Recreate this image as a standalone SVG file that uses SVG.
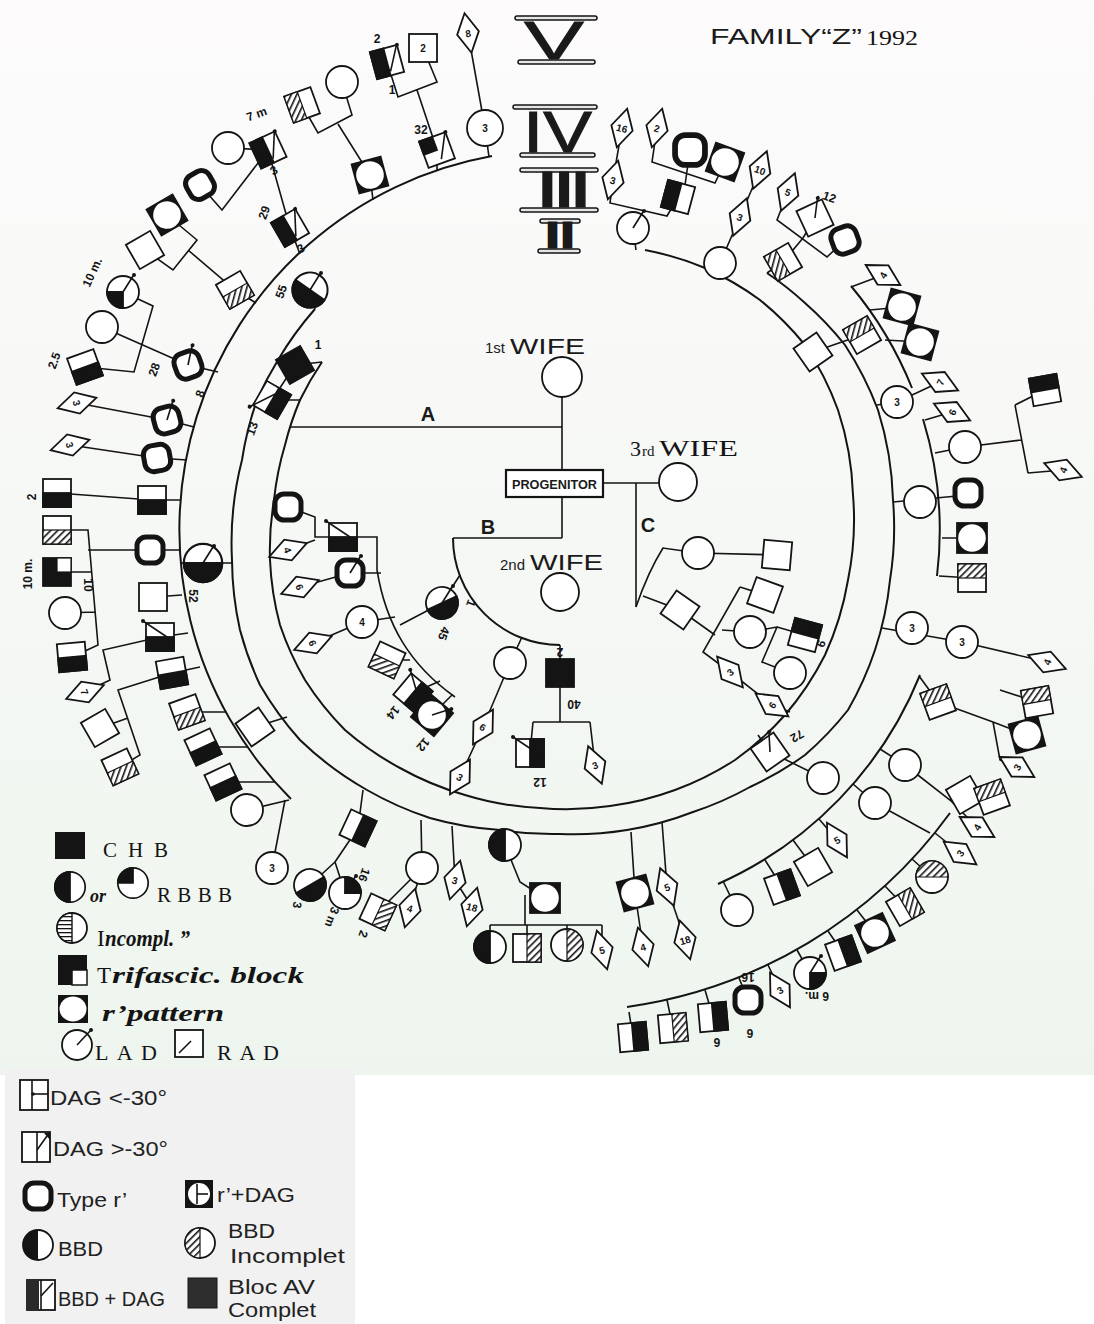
<svg xmlns="http://www.w3.org/2000/svg" width="1094" height="1324" viewBox="0 0 1094 1324">
<style>
.w{fill:#fff;stroke:#141414;stroke-width:1.8}
.b{fill:#141414;stroke:#141414;stroke-width:1.8}
.h{fill:url(#hatch);stroke:#141414;stroke-width:1.2}
.rt{fill:#fff;stroke:#141414;stroke-width:5}
.ln{fill:none;stroke:#141414;stroke-width:1.6}
.rg{fill:none;stroke:#141414;stroke-width:2}
.bar{fill:#e6e6e6;stroke:#141414;stroke-width:1.5}
.n{font-family:"Liberation Sans",Arial,sans-serif;font-weight:bold;font-size:10px;text-anchor:middle;fill:#141414}
.lb{font-family:"Liberation Sans",Arial,sans-serif;font-weight:bold;font-size:12px;text-anchor:middle;fill:#141414}
.cap{font-family:"Liberation Sans",Arial,sans-serif;fill:#1a1a1a}
.ser{font-family:"Liberation Serif","Times New Roman",serif;fill:#141414}
.lg{font-family:"Liberation Sans",Arial,sans-serif;font-size:20px;fill:#222}
</style>
<defs>
<linearGradient id="bg" x1="0" y1="0" x2="0" y2="1"><stop offset="0" stop-color="#fdfbfc"/><stop offset="1" stop-color="#eef5ee"/></linearGradient>
<pattern id="hatch" width="5" height="5" patternUnits="userSpaceOnUse" patternTransform="rotate(45)"><rect width="5" height="5" fill="#fff"/><rect width="1.6" height="5" fill="#141414"/></pattern>
<pattern id="hz" width="4" height="4" patternUnits="userSpaceOnUse"><rect width="4" height="4" fill="#fff"/><rect width="4" height="1.3" fill="#141414"/></pattern>
<g id="sq"><rect x="-14" y="-14" width="28" height="28" class="w"/></g>
<g id="sqB"><rect x="-14" y="-14" width="28" height="28" class="b"/></g>
<g id="sqBot"><rect x="-14" y="-14" width="28" height="28" class="w"/><rect x="-14" y="0" width="28" height="14" class="b"/></g>
<g id="sqTop"><rect x="-14" y="-14" width="28" height="28" class="w"/><rect x="-14" y="-14" width="28" height="14" class="b"/></g>
<g id="sqL"><rect x="-14" y="-14" width="28" height="28" class="w"/><rect x="-14" y="-14" width="14" height="28" class="b"/></g>
<g id="sqR"><rect x="-14" y="-14" width="28" height="28" class="w"/><rect x="0" y="-14" width="14" height="28" class="b"/></g>
<g id="sqHB"><rect x="-14" y="-14" width="28" height="28" class="w"/><rect x="-14" y="0" width="28" height="14" class="h"/></g>
<g id="sqHT"><rect x="-14" y="-14" width="28" height="28" class="w"/><rect x="-14" y="-14" width="28" height="14" class="h"/></g>
<g id="sqHL"><rect x="-14" y="-14" width="28" height="28" class="w"/><rect x="-14" y="-14" width="14" height="28" class="h"/></g>
<g id="sqHR"><rect x="-14" y="-14" width="28" height="28" class="w"/><rect x="0" y="-14" width="14" height="28" class="h"/></g>
<g id="sqTri"><rect x="-14" y="-14" width="28" height="28" class="b"/><rect x="0" y="-14" width="14" height="14" fill="#fff" stroke="#141414" stroke-width="1.2"/></g>
<g id="sqQ"><rect x="-14" y="-14" width="28" height="28" class="w"/><rect x="-14" y="-14" width="14" height="14" class="b"/></g>
<g id="sqRp"><rect x="-15" y="-15" width="30" height="30" class="b"/><circle r="13.8" fill="#fff"/></g>
<g id="sqRt"><rect x="-13" y="-13" width="26" height="26" rx="9" class="rt"/></g>
<g id="ci"><circle r="16" class="w"/></g>
<g id="ciBot"><circle r="16" class="w"/><path d="M-16,0A16,16 0 0 0 16,0Z" class="b"/></g>
<g id="ciL"><circle r="16" class="w"/><path d="M0,-16A16,16 0 0 0 0,16Z" class="b"/></g>
<g id="ciQ"><circle r="16" class="w"/><path d="M0,0H-16A16,16 0 0 1 0,-16Z" class="b"/></g>
<g id="ciHR"><circle r="16" class="w"/><path d="M0,-16A16,16 0 0 1 0,16Z" class="h"/></g>
<g id="ciHT"><circle r="16" class="w"/><path d="M-16,0A16,16 0 0 1 16,0Z" class="h"/></g>
<g id="dm"><polygon points="0,-20 11,0 0,20 -11,0" class="w"/></g>
<g id="lad"><line x1="0" y1="0" x2="10" y2="-16" class="ln"/><circle cx="11" cy="-17" r="2" fill="#141414"/></g>
<g id="dg"><line x1="-17" y1="-16" x2="10" y2="2" class="ln"/><circle cx="-17" cy="-16" r="2" fill="#141414"/></g>
<g id="dag"><line x1="1" y1="10" x2="13" y2="-13" class="ln"/><circle cx="14" cy="-14" r="2" fill="#141414"/></g>
</defs>

<rect x="0" y="0" width="1094" height="1324" fill="#ffffff"/>
<rect x="0" y="0" width="1094" height="1075" fill="url(#bg)"/>
<rect x="5" y="1068" width="350" height="256" fill="#f1f1f1"/>

<g id="title"><text x="710" y="44" class="cap" font-size="22" textLength="152" lengthAdjust="spacingAndGlyphs">FAMILY“Z”</text><text x="866" y="45" class="ser" font-size="21" textLength="52" lengthAdjust="spacingAndGlyphs">1992</text></g>

<g id="generations">
<rect x="515" y="16" width="82" height="4" rx="2" class="bar"/><rect x="518" y="60" width="77" height="4" rx="2" class="bar"/>
<text x="524" y="59" class="cap" font-size="54" stroke="#1a1a1a" stroke-width="0.8" textLength="60" lengthAdjust="spacingAndGlyphs">V</text>
<rect x="513" y="105" width="84" height="4" rx="2" class="bar"/><rect x="520" y="153" width="75" height="4" rx="2" class="bar"/>
<text x="523" y="152" class="cap" font-size="58" stroke="#1a1a1a" stroke-width="1" textLength="69" lengthAdjust="spacingAndGlyphs">IV</text>
<rect x="520" y="168" width="78" height="4" rx="2" class="bar"/><rect x="520" y="208" width="78" height="4" rx="2" class="bar"/>
<text x="539" y="207" class="cap" font-size="50" font-weight="bold" stroke="#1a1a1a" stroke-width="1.2" textLength="50" lengthAdjust="spacingAndGlyphs">III</text>
<rect x="540" y="219" width="40" height="4" rx="2" class="bar"/><rect x="538" y="249" width="42" height="4" rx="2" class="bar"/>
<text x="545" y="248" class="cap" font-size="36" font-weight="bold" stroke="#1a1a1a" stroke-width="1.2" textLength="30" lengthAdjust="spacingAndGlyphs">II</text>
</g>

<g id="connectors">
<path class="rg" d="M322,362 A300,300 0 0 0 300,400 A300,300 0 0 0 285,445 A300,300 0 0 0 274,500 A300,300 0 0 0 270,560 A300,300 0 0 0 280,625 A300,300 0 0 0 305,680 A300,300 0 0 0 345,730 A300,300 0 0 0 400,768 A300,300 0 0 0 465,795 A300,300 0 0 0 540,808 A300,300 0 0 0 610,806 A300,300 0 0 0 675,790 A300,300 0 0 0 735,760 A300,300 0 0 0 785,715 A300,300 0 0 0 825,655 A300,300 0 0 0 848,580 A300,300 0 0 0 853,495 A300,300 0 0 0 838,410 A300,300 0 0 0 805,345 A300,300 0 0 0 760,300 A300,300 0 0 0 705,268 A300,300 0 0 0 645,250"/>
<path class="rg" d="M315,309 A330,330 0 0 0 278,360 A330,330 0 0 0 257,400 A330,330 0 0 0 242,460 A330,330 0 0 0 232,560 A330,330 0 0 0 240,630 A330,330 0 0 0 260,685 A330,330 0 0 0 300,740 A330,330 0 0 0 367,790 A330,330 0 0 0 430,818 A330,330 0 0 0 500,830 A330,330 0 0 0 560,834 A330,330 0 0 0 627,830 A330,330 0 0 0 693,812 A330,330 0 0 0 750,787 A330,330 0 0 0 805,755 A330,330 0 0 0 848,710 A330,330 0 0 0 875,650 A330,330 0 0 0 890,580 A330,330 0 0 0 893,500 A330,330 0 0 0 878,410 A330,330 0 0 0 845,345 A330,330 0 0 0 805,303 A330,330 0 0 0 767,273"/>
<path class="rg" d="M492,156 A380,380 0 0 0 291,799"/>
<path class="rg" d="M851,286 A380,380 0 0 1 912,388"/>
<path class="rg" d="M923,419 A380,380 0 0 1 937,576"/>
<path class="rg" d="M920,675 A388,388 0 0 1 718,884"/>
<path class="rg" d="M950,813 A482,482 0 0 1 627,1007"/>
<path class="rg" d="M453,538 A107,107 0 0 0 560,645"/>
<path class="ln" d="M562,397 L562,470 M290,427 L562,427 M562,497 L562,538 M453,538 L562,538 M603,483 L659,483 M636,483 L636,607"/>
<path class="ln" d="M302,105 L318,133 L352,115 L342,82 M338,124 L370,175 L373,200 M387,62 L398,97 L437,82 L423,48 M417,90 L437,150 L437,171 M468,33 L485,128 L489,157"/>
<path class="ln" d="M200,185 L222,210 L268,150 M228,148 L268,150 L290,228 L300,254 M167,215 L197,240 L173,270 L145,250 M188,250 L235,290 L256,303"/>
<path class="ln" d="M123,292 L153,306 L134,372 L85,367 M102,327 L188,365 L218,372 M77,403 L167,420 L194,427 M70,445 L157,458 L187,460 M57,493 L152,500 L181,500"/>
<path class="ln" d="M57,530 L88,530 L98,645 L72,657 M57,572 L92,572 M65,613 L95,612 M88,550 L180,550 M181,563 L232,563 M153,597 L182,595 M160,637 L188,633 M160,637 L103,650 L110,680 L85,692"/>
<path class="ln" d="M172,673 L200,667 M172,673 L118,690 L140,755 L120,767 M128,718 L100,728 M187,712 L226,712 M203,747 L248,747 M223,782 L275,782 M247,810 L289,800 M255,727 L287,717"/>
<path class="ln" d="M310,290 L315,309 M295,365 L322,362 M295,365 L272,400 L300,400"/>
<path class="ln" d="M288,507 L315,517 L315,537 L377,537 L377,570 C386,625 410,665 455,697 M288,550 L315,540 M350,573 L381,573 M300,587 L350,573 M362,622 L395,617 M313,643 L362,622 M442,603 L400,625 M442,603 L460,575 M387,660 L410,660 M413,693 L440,681 M432,715 L452,695"/>
<path class="ln" d="M560,645 L560,722 M533,722 L590,722 M533,722 L530,753 M590,722 L595,765 M522,637 L510,663 L483,727 L460,777"/>
<path class="ln" d="M636,607 Q648,572 663,548 L698,553 L777,555 M643,596 L680,610 L715,635 M740,587 L703,652 L730,672 L772,705 L790,712 M740,587 L765,595 M722,630 L750,632 L777,627 L762,662 L790,673 M777,627 L805,635"/>
<path class="ln" d="M622,128 L613,180 L610,203 L667,216 L678,197 M633,228 L636,250 M657,128 L652,162 L715,183 L725,162 M690,150 L685,185 L678,197 M760,170 L740,217 L720,263 L718,272 M788,192 L777,220 L827,257 L845,240 M815,218 L803,238 L783,262 L767,273"/>
<path class="ln" d="M883,275 L851,287 M902,307 L870,310 M920,342 L885,340 M862,335 L813,352 M897,402 L877,405 M940,382 L897,402"/>
<path class="ln" d="M952,412 L925,420 M965,447 L935,453 M965,447 L1021,440 M1015,405 L1028,473 M1015,405 L1045,390 M1028,473 L1063,470 M893,502 L968,495 M972,538 L942,538 M972,578 L939,576 M882,628 L962,642 L1047,662"/>
<path class="ln" d="M938,702 L919,676 M938,702 L993,722 L1027,735 M1000,690 L1037,702 M993,722 L1000,760 L1017,767 M770,752 L823,778 M770,752 L758,735 M905,765 L880,749 M905,765 L950,800 L977,827 M950,800 L965,795 L992,797 M875,803 L853,784 M875,803 L930,833 M837,840 L819,819"/>
<path class="ln" d="M960,853 L935,833 M932,877 L912,859 M905,907 L885,886 M875,933 L857,910 M843,953 L828,931 M810,973 L797,950 M780,990 L768,965 M748,1000 L739,978 M713,1017 L705,990 M673,1028 L667,1000 M633,1037 L629,1012 M813,867 L793,840 M782,887 L765,860 M737,910 L723,881 M635,893 L631,832 M667,887 L662,822 M635,893 L643,947 M667,887 L685,940"/>
<path class="ln" d="M505,845 L505,830 M505,845 L520,882 L545,898 M525,895 L525,925 M490,925 L602,925 M490,925 L490,947 M527,925 L527,948 M567,925 L567,945 M602,925 L602,950 M455,880 L452,826 M455,880 L472,907 M422,868 L421,820 M422,868 L410,908 M378,912 L400,890 L422,868 M358,828 L363,790 M358,828 L335,862 L345,893 M310,885 L335,862 M272,868 L285,800"/>
</g>

<g id="center">
<g id="wife1"><circle cx="562" cy="377" r="20" class="w"/><text x="485" y="353" class="cap" font-size="15">1st</text><text x="510" y="354" class="cap" font-size="22" textLength="75" lengthAdjust="spacingAndGlyphs">WIFE</text></g>
<g id="progenitor"><rect x="506" y="470" width="97" height="27" fill="#fff" stroke="#141414" stroke-width="2.2"/><text x="512" y="489" class="cap" font-size="12" font-weight="bold" textLength="85" lengthAdjust="spacingAndGlyphs">PROGENITOR</text></g>
<g id="wife2"><circle cx="560" cy="592" r="19" class="w"/><text x="500" y="570" class="cap" font-size="15">2nd</text><text x="530" y="570" class="cap" font-size="22" textLength="73" lengthAdjust="spacingAndGlyphs">WIFE</text></g>
<g id="wife3"><circle cx="678" cy="482" r="19" class="w"/><text x="630" y="456" class="ser" font-size="22">3</text><text x="642" y="456" class="ser" font-size="15">rd</text><text x="659" y="456" class="ser" font-size="23" textLength="79" lengthAdjust="spacingAndGlyphs">WIFE</text></g>
<text x="428" y="421" class="cap" font-size="20" font-weight="bold" text-anchor="middle">A</text>
<text x="488" y="534" class="cap" font-size="20" font-weight="bold" text-anchor="middle">B</text>
<text x="648" y="532" class="cap" font-size="20" font-weight="bold" text-anchor="middle">C</text>
</g>

<g id="nodes">
<g id="n1" transform="translate(302,105) rotate(-20)"><use href="#sqHL"/></g>
<g id="n2" transform="translate(342,82)"><use href="#ci"/></g>
<g id="n3" transform="translate(370,175) rotate(-15)"><use href="#sqRp"/></g>
<g id="n4" transform="translate(387,62) rotate(-15)"><use href="#sqL"/><use href="#dag"/></g>
<text class="lb" x="377" y="43">2</text><text class="lb" x="392" y="94">1</text>
<g id="n5" transform="translate(423,48)"><use href="#sq"/><text class="n" y="4" font-size="11">2</text></g>
<g id="n6" transform="translate(437,150) rotate(-20)"><use href="#sqQ"/><use href="#dag"/></g>
<text class="lb" x="421" y="134">32</text>
<g id="n7" transform="translate(468,33) rotate(-10)"><use href="#dm"/><text class="n" y="4">8</text></g>
<g id="n8" transform="translate(485,128)"><circle r="18" class="w"/><text class="n" y="4" font-size="11">3</text></g>
<g id="n9" transform="translate(268,150) rotate(-25)"><use href="#sqL"/><use href="#dag"/></g>
<text class="lb" x="258" y="118" transform="rotate(-20 258 118)">7 m</text><text class="lb" x="276" y="174" transform="rotate(-30 276 174)">3</text>
<g id="n10" transform="translate(228,148)"><use href="#ci"/></g>
<g id="n11" transform="translate(200,185) rotate(-30)"><use href="#sqRt"/></g>
<g id="n12" transform="translate(167,215) rotate(-30)"><use href="#sqRp"/></g>
<g id="n13" transform="translate(145,250) rotate(-30)"><use href="#sq"/></g>
<g id="n14" transform="translate(235,290) rotate(-30)"><use href="#sqHB"/></g>
<g id="n15" transform="translate(123,292)"><g transform="rotate(-90)"><use href="#ciQ"/></g><use href="#lad"/></g>
<text class="lb" x="96" y="274" transform="rotate(-65 96 274)">10 m.</text>
<g id="n16" transform="translate(102,327)"><use href="#ci"/></g>
<g id="n17" transform="translate(85,367) rotate(-20)"><use href="#sqBot"/></g>
<text class="lb" x="58" y="362" transform="rotate(-70 58 362)">2.5</text>
<g id="n18" transform="translate(188,365) rotate(-20)"><use href="#sqRt"/><use href="#lad"/></g>
<text class="lb" x="158" y="371" transform="rotate(-70 158 371)">28</text><text class="lb" x="204" y="395" transform="rotate(-70 204 395)">8</text>
<g id="n19" transform="translate(77,403) rotate(75)"><use href="#dm"/><text class="n" y="4">3</text></g>
<g id="n20" transform="translate(167,420) rotate(-15)"><use href="#sqRt"/><use href="#lad"/></g>
<g id="n21" transform="translate(70,445) rotate(75)"><use href="#dm"/><text class="n" y="4">3</text></g>
<g id="n22" transform="translate(157,458) rotate(-10)"><use href="#sqRt"/></g>
<g id="n23" transform="translate(57,493)"><use href="#sqBot"/></g>
<text class="lb" x="36" y="497" transform="rotate(-90 36 497)">2</text>
<g id="n24" transform="translate(152,500)"><use href="#sqBot"/></g>
<g id="n25" transform="translate(57,530)"><use href="#sqHB"/></g>
<g id="n26" transform="translate(150,550)"><use href="#sqRt"/></g>
<g id="n27" transform="translate(57,572)"><use href="#sqTri"/></g>
<text class="lb" x="32" y="574" font-size="14" transform="rotate(-90 32 574)">10 m.</text><text class="lb" x="84" y="585" transform="rotate(90 84 585)">10</text>
<g id="n28" transform="translate(65,613)"><use href="#ci"/></g>
<g id="n29" transform="translate(72,657) rotate(-5)"><use href="#sqBot"/></g>
<g id="n30" transform="translate(203,563)"><g transform="scale(1.2)"><use href="#ciBot"/></g><use href="#lad"/></g>
<text class="lb" x="189" y="596" transform="rotate(90 189 596)">52</text>
<g id="n31" transform="translate(153,597)"><use href="#sq"/></g>
<g id="n32" transform="translate(160,637)"><use href="#sqBot"/><use href="#dg"/></g>
<g id="n33" transform="translate(85,692) rotate(70)"><use href="#dm"/><text class="n" y="4">7</text></g>
<g id="n34" transform="translate(172,673) rotate(-10)"><use href="#sqBot"/></g>
<g id="n35" transform="translate(100,728) rotate(-30)"><use href="#sq"/></g>
<g id="n36" transform="translate(120,767) rotate(-25)"><use href="#sqHB"/></g>
<g id="n37" transform="translate(187,712) rotate(-20)"><use href="#sqHB"/></g>
<g id="n38" transform="translate(203,747) rotate(-25)"><use href="#sqBot"/></g>
<g id="n39" transform="translate(223,782) rotate(-25)"><use href="#sqBot"/></g>
<g id="n40" transform="translate(247,810)"><use href="#ci"/></g>
<g id="n41" transform="translate(255,727) rotate(-35)"><use href="#sq"/></g>
<g id="n42" transform="translate(290,228) rotate(-30)"><use href="#sqL"/><use href="#dag"/></g>
<text class="lb" x="268" y="214" transform="rotate(-70 268 214)">29</text><text class="lb" x="303" y="252" transform="rotate(-30 303 252)">3</text>
<g id="n43" transform="translate(310,290)"><g transform="rotate(35) scale(1.1)"><use href="#ciBot"/></g><use href="#lad"/></g>
<text class="lb" x="285" y="293" transform="rotate(-70 285 293)">55</text>
<g id="n44" transform="translate(295,365) rotate(-30)"><use href="#sqB"/></g>
<text class="lb" x="318" y="349">1</text>
<g id="n45" transform="translate(272,400) rotate(-60)"><use href="#sqBot"/><use href="#dg"/></g>
<text class="lb" x="256" y="430" transform="rotate(-70 256 430)">13</text>

<g id="n46" transform="translate(288,507)"><use href="#sqRt"/></g>
<g id="n47" transform="translate(343,537)"><use href="#sqBot"/><use href="#dg"/></g>
<g id="n48" transform="translate(288,550) rotate(70)"><use href="#dm"/><text class="n" y="4">4</text></g>
<g id="n49" transform="translate(350,573)"><use href="#sqRt"/><use href="#lad"/></g>
<g id="n50" transform="translate(300,587) rotate(70)"><use href="#dm"/><text class="n" y="4">6</text></g>
<g id="n51" transform="translate(362,622)"><use href="#ci"/><text class="n" y="4">4</text></g>
<g id="n52" transform="translate(313,643) rotate(70)"><use href="#dm"/><text class="n" y="4">6</text></g>
<g id="n53" transform="translate(442,603)"><g transform="rotate(-25)"><use href="#ciBot"/></g><use href="#lad"/></g>
<text class="lb" x="440" y="632" transform="rotate(110 440 632)">45</text><text class="lb" x="467" y="602" transform="rotate(110 467 602)">1</text>
<g id="n54" transform="translate(387,660) rotate(25)"><use href="#sqHB"/></g>
<g id="n55" transform="translate(413,693) rotate(40)"><use href="#sqR"/><use href="#dg"/></g>
<text class="lb" x="390" y="710" transform="rotate(130 390 710)">14</text>
<g id="n56" transform="translate(432,715) rotate(40)"><use href="#sqRp"/><use href="#lad"/></g>
<text class="lb" x="420" y="742" transform="rotate(130 420 742)">12</text>
<g id="n57" transform="translate(510,663)"><use href="#ci"/></g>
<g id="n58" transform="translate(560,673)"><use href="#sqB"/></g>
<text class="lb" x="560" y="656" transform="rotate(180 560 652)">2</text><text class="lb" x="574" y="708" transform="rotate(180 574 704)">40</text>
<g id="n59" transform="translate(530,753)"><use href="#sqR"/><use href="#dg"/></g>
<text class="lb" x="540" y="786" transform="rotate(180 540 782)">12</text>
<g id="n60" transform="translate(595,765) rotate(-20)"><use href="#dm"/><text class="n" y="4">3</text></g>
<g id="n61" transform="translate(483,727) rotate(30)"><use href="#dm"/><text class="n" y="4">6</text></g>
<g id="n62" transform="translate(460,777) rotate(30)"><use href="#dm"/><text class="n" y="4">3</text></g>

<g id="n63" transform="translate(698,553)"><use href="#ci"/></g>
<g id="n64" transform="translate(777,555) rotate(5)"><use href="#sq"/></g>
<g id="n65" transform="translate(680,610) rotate(35)"><use href="#sq"/></g>
<g id="n66" transform="translate(765,595) rotate(20)"><use href="#sq"/></g>
<g id="n67" transform="translate(750,632)"><use href="#ci"/></g>
<g id="n68" transform="translate(730,672) rotate(-40)"><use href="#dm"/><text class="n" y="4">3</text></g>
<g id="n69" transform="translate(772,705) rotate(-55)"><use href="#dm"/><text class="n" y="4">6</text></g>
<g id="n70" transform="translate(805,635) rotate(15)"><use href="#sqTop"/></g>
<text class="lb" x="825" y="645" transform="rotate(-70 825 645)">6</text>
<g id="n71" transform="translate(790,673)"><use href="#ci"/></g>

<g id="n72" transform="translate(622,128) rotate(15)"><use href="#dm"/><text class="n" y="4">16</text></g>
<g id="n73" transform="translate(613,180) rotate(15)"><use href="#dm"/><text class="n" y="4">3</text></g>
<g id="n74" transform="translate(657,128) rotate(15)"><use href="#dm"/><text class="n" y="4">2</text></g>
<g id="n75" transform="translate(690,150) scale(1.15)"><use href="#sqRt"/></g>
<g id="n76" transform="translate(725,162) rotate(20)"><use href="#sqRp"/></g>
<g id="n77" transform="translate(678,197) rotate(15)"><use href="#sqL"/></g>
<g id="n78" transform="translate(633,228)"><use href="#ci"/><use href="#lad"/></g>
<g id="n79" transform="translate(760,170) rotate(20)"><use href="#dm"/><text class="n" y="4">10</text></g>
<g id="n80" transform="translate(740,217) rotate(20)"><use href="#dm"/><text class="n" y="4">3</text></g>
<g id="n81" transform="translate(720,263)"><use href="#ci"/></g>
<g id="n82" transform="translate(788,192) rotate(20)"><use href="#dm"/><text class="n" y="4">5</text></g>
<g id="n83" transform="translate(815,218) rotate(-25)"><use href="#sq"/><use href="#lad"/></g>
<text class="lb" x="828" y="201" transform="rotate(20 828 201)">12</text>
<g id="n84" transform="translate(845,240) rotate(-20)"><use href="#sqRt"/></g>
<g id="n85" transform="translate(783,262) rotate(-30)"><use href="#sqHL"/></g>
<g id="n86" transform="translate(883,275) rotate(-60)"><use href="#dm"/><text class="n" y="4">4</text></g>
<g id="n87" transform="translate(902,307) rotate(15)"><use href="#sqRp"/></g>
<g id="n88" transform="translate(920,342) rotate(15)"><use href="#sqRp"/></g>
<g id="n89" transform="translate(862,335) rotate(-30)"><use href="#sqHT"/></g>
<g id="n90" transform="translate(813,352) rotate(-35)"><use href="#sq"/></g>
<g id="n91" transform="translate(897,402)"><use href="#ci"/><text class="n" y="4">3</text></g>
<g id="n92" transform="translate(940,382) rotate(-65)"><use href="#dm"/><text class="n" y="4">7</text></g>

<g id="n93" transform="translate(952,412) rotate(-65)"><use href="#dm"/><text class="n" y="4">6</text></g>
<g id="n94" transform="translate(965,447)"><use href="#ci"/></g>
<g id="n95" transform="translate(1045,390) rotate(-10)"><use href="#sqTop"/></g>
<g id="n96" transform="translate(1063,470) rotate(-70)"><use href="#dm"/><text class="n" y="4">4</text></g>
<g id="n97" transform="translate(968,493)"><use href="#sqRt"/></g>
<g id="n98" transform="translate(920,502)"><use href="#ci"/></g>
<g id="n99" transform="translate(972,538)"><use href="#sqRp"/></g>
<g id="n100" transform="translate(972,578)"><use href="#sqHT"/></g>
<g id="n101" transform="translate(912,628)"><use href="#ci"/><text class="n" y="4">3</text></g>
<g id="n102" transform="translate(962,642)"><use href="#ci"/><text class="n" y="4">3</text></g>
<g id="n103" transform="translate(1047,662) rotate(-70)"><use href="#dm"/><text class="n" y="4">4</text></g>

<g id="n104" transform="translate(938,702) rotate(-20)"><use href="#sqHT"/></g>
<g id="n105" transform="translate(1037,702) rotate(-10)"><use href="#sqHT"/></g>
<g id="n106" transform="translate(1027,735) rotate(-15)"><use href="#sqRp"/></g>
<g id="n107" transform="translate(1017,767) rotate(-60)"><use href="#dm"/><text class="n" y="4">3</text></g>
<g id="n108" transform="translate(770,752) rotate(-35)"><use href="#sq"/><use href="#lad"/></g>
<text class="lb" x="797" y="740" transform="rotate(150 797 736)">72</text>
<g id="n109" transform="translate(823,778)"><use href="#ci"/></g>
<g id="n110" transform="translate(905,765)"><use href="#ci"/></g>
<g id="n111" transform="translate(875,803)"><use href="#ci"/></g>
<g id="n112" transform="translate(965,795) rotate(-30)"><use href="#sq"/></g>
<g id="n113" transform="translate(992,797) rotate(-20)"><use href="#sqHT"/></g>
<g id="n114" transform="translate(977,827) rotate(-60)"><use href="#dm"/><text class="n" y="4">4</text></g>
<g id="n115" transform="translate(837,840) rotate(-30)"><use href="#dm"/><text class="n" y="4">5</text></g>
<g id="n116" transform="translate(960,853) rotate(-55)"><use href="#dm"/><text class="n" y="4">3</text></g>
<g id="n117" transform="translate(813,867) rotate(-30)"><use href="#sq"/></g>
<g id="n118" transform="translate(782,887) rotate(-20)"><use href="#sqR"/></g>
<g id="n119" transform="translate(932,877)"><use href="#ciHT"/></g>
<g id="n120" transform="translate(905,907) rotate(-30)"><use href="#sqHR"/></g>
<g id="n121" transform="translate(875,933) rotate(-25)"><use href="#sqRp"/></g>
<g id="n122" transform="translate(843,953) rotate(-20)"><use href="#sqR"/></g>
<g id="n123" transform="translate(810,973)"><g transform="rotate(180)"><use href="#ciQ"/></g><use href="#lad"/></g>
<text class="lb" x="817" y="1000" transform="rotate(180 817 996)">6 m.</text>
<g id="n124" transform="translate(780,990) rotate(-30)"><use href="#dm"/><text class="n" y="4">3</text></g>
<g id="n125" transform="translate(748,1000)"><use href="#sqRt"/></g>
<text class="lb" x="748" y="981" transform="rotate(180 748 977)">16</text><text class="lb" x="750" y="1037" transform="rotate(180 750 1033)">6</text>
<g id="n126" transform="translate(713,1017) rotate(-5)"><use href="#sqR"/></g>
<text class="lb" x="717" y="1046" transform="rotate(180 717 1042)">6</text>
<g id="n127" transform="translate(673,1028) rotate(-5)"><use href="#sqHR"/></g>
<g id="n128" transform="translate(633,1037) rotate(-5)"><use href="#sqR"/></g>
<g id="n129" transform="translate(737,910)"><use href="#ci"/></g>
<g id="n130" transform="translate(635,893) rotate(-15)"><use href="#sqRp"/></g>
<g id="n131" transform="translate(667,887) rotate(-20)"><use href="#dm"/><text class="n" y="4">5</text></g>
<g id="n132" transform="translate(643,947) rotate(-15)"><use href="#dm"/><text class="n" y="4">4</text></g>
<g id="n133" transform="translate(685,940) rotate(-15)"><use href="#dm"/><text class="n" y="4">18</text></g>

<g id="n134" transform="translate(505,845)"><use href="#ciL"/></g>
<g id="n135" transform="translate(545,898)"><use href="#sqRp"/></g>
<g id="n136" transform="translate(490,947)"><use href="#ciL"/></g>
<g id="n137" transform="translate(527,948)"><use href="#sqHR"/></g>
<g id="n138" transform="translate(567,945)"><use href="#ciHR"/></g>
<g id="n139" transform="translate(602,950) rotate(-15)"><use href="#dm"/><text class="n" y="4">5</text></g>
<g id="n140" transform="translate(455,880) rotate(15)"><use href="#dm"/><text class="n" y="4">3</text></g>
<g id="n141" transform="translate(472,907) rotate(15)"><use href="#dm"/><text class="n" y="4">18</text></g>
<g id="n142" transform="translate(422,868)"><use href="#ci"/></g>
<g id="n143" transform="translate(410,908) rotate(15)"><use href="#dm"/><text class="n" y="4">4</text></g>
<g id="n144" transform="translate(378,912) rotate(25)"><use href="#sqHR"/></g>
<text class="lb" x="363" y="938" transform="rotate(110 363 934)">2</text>
<g id="n145" transform="translate(345,893)"><g transform="rotate(90)"><use href="#ciQ"/></g><use href="#lad"/></g>
<text class="lb" x="364" y="879" transform="rotate(110 364 875)">16</text><text class="lb" x="332" y="921" transform="rotate(110 332 917)">3 m</text>
<g id="n146" transform="translate(310,885)"><g transform="rotate(-30)"><use href="#ciBot"/></g></g>
<text class="lb" x="297" y="909" transform="rotate(100 297 905)">3</text>
<g id="n147" transform="translate(272,868)"><use href="#ci"/><text class="n" y="4">3</text></g>
<g id="n148" transform="translate(358,828) rotate(25)"><use href="#sqR"/></g>
</g>

<g id="legend-main">
<rect x="55" y="832" width="30" height="27" fill="#141414"/>
<text x="103" y="857" class="ser" font-size="21" textLength="65" lengthAdjust="spacing">CHB</text>
<g transform="translate(70,887) scale(0.95)"><use href="#ciL"/></g>
<text x="90" y="902" class="ser" font-size="18" font-weight="bold" font-style="italic">or</text>
<g transform="translate(133,883) scale(0.95)"><use href="#ciQ"/></g>
<text x="157" y="902" class="ser" font-size="21" textLength="75" lengthAdjust="spacing">RBBB</text>
<circle cx="72" cy="928" r="15" class="w"/><path d="M72,913A15,15 0 0 0 72,943Z" fill="url(#hz)" stroke="#141414" stroke-width="1.4"/>
<text x="97" y="946" class="ser" font-size="23">I</text>
<text x="105" y="946" class="ser" font-size="23" font-weight="bold" font-style="italic" textLength="85" lengthAdjust="spacingAndGlyphs">ncompl. ”</text>
<rect x="58" y="955" width="29" height="30" fill="#141414"/><rect x="72" y="970" width="15" height="15" fill="#fff" stroke="#141414" stroke-width="1.5"/>
<text x="97" y="983" class="ser" font-size="23">T</text>
<text x="112" y="983" class="ser" font-size="23" font-weight="bold" font-style="italic" textLength="192" lengthAdjust="spacingAndGlyphs">rifascic. block</text>
<rect x="58" y="995" width="30" height="28" fill="#141414"/><ellipse cx="73" cy="1009" rx="13.5" ry="12.5" fill="#fff"/>
<text x="102" y="1021" class="ser" font-size="23" font-weight="bold" font-style="italic" textLength="122" lengthAdjust="spacingAndGlyphs">r’pattern</text>
<circle cx="77" cy="1045" r="15" class="w"/><line x1="77" y1="1045" x2="90" y2="1031" class="ln"/><circle cx="91" cy="1030" r="2" fill="#141414"/>
<text x="95" y="1060" class="ser" font-size="22" textLength="62" lengthAdjust="spacing">LAD</text>
<rect x="175" y="1030" width="28" height="27" class="w"/><line x1="179" y1="1053" x2="191" y2="1041" class="ln"/>
<text x="217" y="1060" class="ser" font-size="22" textLength="62" lengthAdjust="spacing">RAD</text>
</g>

<g id="legend-panel">
<rect x="20" y="1080" width="28" height="30" class="w"/><line x1="32" y1="1080" x2="32" y2="1110" class="ln"/><line x1="32" y1="1094" x2="48" y2="1094" class="ln"/><circle cx="33" cy="1094" r="1.8" fill="#141414"/>
<text x="50" y="1105" class="lg" textLength="117" lengthAdjust="spacingAndGlyphs">DAG &lt;-30°</text>
<rect x="22" y="1132" width="28" height="30" class="w"/><line x1="37" y1="1132" x2="37" y2="1162" class="ln"/><line x1="37" y1="1150" x2="47" y2="1136" class="ln"/><polygon points="44,1133 50,1133 50,1140" fill="#141414"/>
<text x="53" y="1156" class="lg" textLength="115" lengthAdjust="spacingAndGlyphs">DAG &gt;-30°</text>
<rect x="25" y="1183" width="26" height="26" rx="9" class="rt"/>
<text x="57" y="1207" class="lg" textLength="70" lengthAdjust="spacingAndGlyphs">Type r’</text>
<rect x="185" y="1180" width="28" height="28" fill="#141414"/><circle cx="199" cy="1194" r="11" fill="#fff"/><line x1="197" y1="1184" x2="197" y2="1204" class="ln"/><line x1="197" y1="1194" x2="208" y2="1194" class="ln"/>
<text x="217" y="1202" class="lg" textLength="78" lengthAdjust="spacingAndGlyphs">r’+DAG</text>
<circle cx="38" cy="1245" r="15" class="w"/><path d="M38,1230A15,15 0 0 0 38,1260Z" fill="#141414"/>
<text x="58" y="1256" class="lg" textLength="45" lengthAdjust="spacingAndGlyphs">BBD</text>
<circle cx="200" cy="1243" r="15" class="w"/><path d="M200,1228A15,15 0 0 0 200,1258Z" class="h"/>
<text x="228" y="1238" class="lg" textLength="47" lengthAdjust="spacingAndGlyphs">BBD</text>
<text x="230" y="1263" class="lg" textLength="115" lengthAdjust="spacingAndGlyphs">Incomplet</text>
<rect x="27" y="1280" width="28" height="30" class="w"/><rect x="27" y="1280" width="12" height="30" fill="#2a2a2a"/><line x1="41" y1="1280" x2="41" y2="1310" class="ln"/><line x1="41" y1="1296" x2="53" y2="1283" class="ln"/>
<text x="58" y="1306" class="lg" textLength="107" lengthAdjust="spacingAndGlyphs">BBD + DAG</text>
<rect x="188" y="1278" width="29" height="30" fill="#2e2e2e" stroke="#141414" stroke-width="1"/>
<text x="228" y="1294" class="lg" textLength="87" lengthAdjust="spacingAndGlyphs">Bloc AV</text>
<text x="228" y="1317" class="lg" textLength="88" lengthAdjust="spacingAndGlyphs">Complet</text>
</g>
</svg>
